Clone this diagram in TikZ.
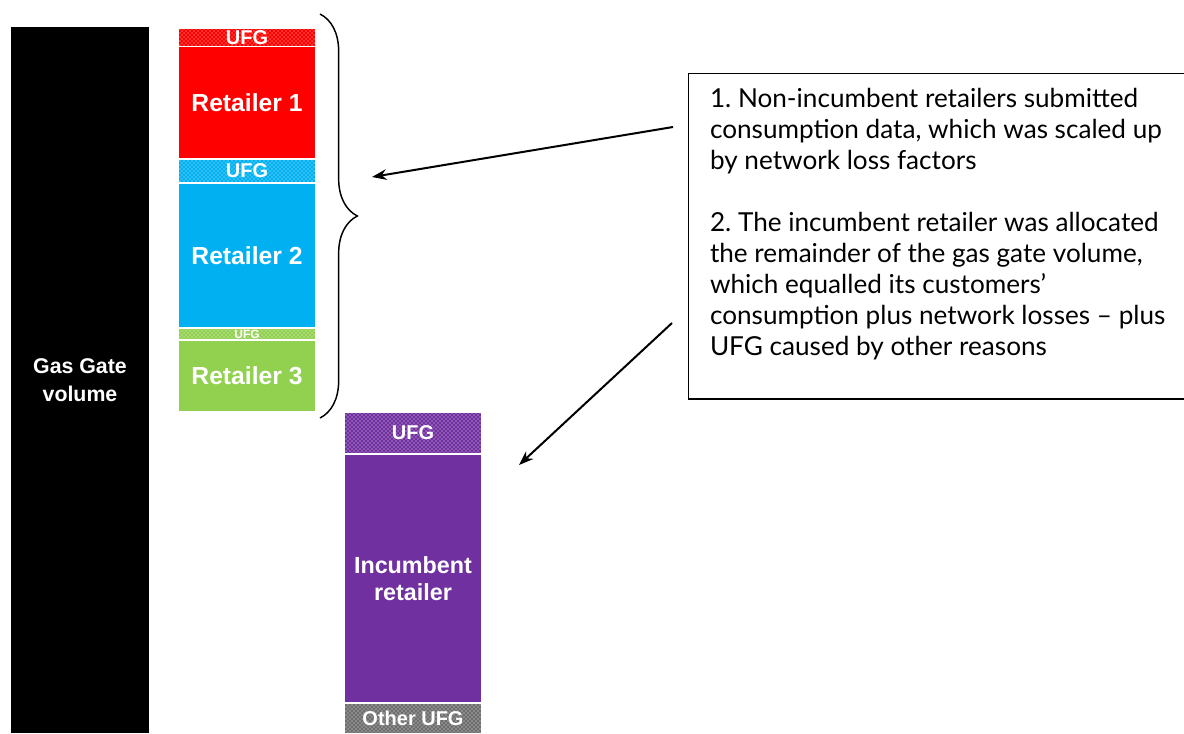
\documentclass[tikz,border=0pt]{standalone}
\usepackage{fontspec}
\setmainfont{Lato}
\newfontfamily\barfont{Liberation Sans}
\usetikzlibrary{decorations.pathreplacing,patterns,arrows.meta,positioning}
\definecolor{redR}{HTML}{FF0000}
\definecolor{blueR}{HTML}{00B0F0}
\definecolor{greenR}{HTML}{92D050}
\definecolor{purpleR}{HTML}{7030A0}
\definecolor{greyR}{HTML}{6E6E6E}
\tikzset{
  bar/.style={
    shape = rectangle,
    inner sep = 0pt,
    minimum width = 102pt,
    text = white,
    font = \barfont\bfseries\fontsize{18.5}{21}\selectfont,
    align = center
  },
  ufg/.style={
    bar,
    fill = #1,
    postaction = {pattern = crosshatch dots, pattern color = white!85!#1},
    font = \barfont\bfseries\fontsize{15}{17}\selectfont
  },
  pointer/.style={
    line width = 1.5pt,
    -{Stealth[length=11pt,width=8pt]}
  },
  note/.style={
    draw,
    line width = 1pt,
    shape = rectangle,
    align = left,
    anchor = north west,
    inner xsep = 16pt,
    minimum width = 370pt,
    minimum height = 244pt,
    font = \frenchspacing\fontsize{19.6}{23.2}\selectfont
  }
}
\begin{document}
\begin{tikzpicture}[x=0.75pt,y=-0.75pt]
\useasboundingbox (0,0) rectangle (1184,733);
\node[bar, fill=black, minimum width=103.5pt, minimum height=529.5pt,
  font=\barfont\bfseries\fontsize{16}{21}\selectfont] (gate) at (80,380) {Gas Gate\\volume};
% non-incumbent retailers
\node[ufg=redR, minimum height=12.75pt] (ufg1) at (247,37.5) {UFG};
\node[bar, fill=redR, minimum height=83.25pt] (ret1) at (247,102.5) {Retailer 1};
\node[ufg=blueR, minimum height=16.5pt] (ufg2) at (247,171) {UFG};
\node[bar, fill=blueR, minimum height=107.25pt] (ret2) at (247,255.5) {Retailer 2};
\node[ufg=greenR, minimum height=7.5pt, font=\barfont\bfseries\fontsize{9}{9}\selectfont] (ufg3) at (247,334) {UFG};
\node[bar, fill=greenR, minimum height=52.5pt] (ret3) at (247,376) {Retailer 3};
% incumbent retailer
\node[ufg=purpleR, minimum height=30pt] (ufg4) at (413,433) {UFG};
\node[bar, fill=purpleR, minimum height=185.25pt, font=\barfont\bfseries\fontsize{17.5}{20}\selectfont] (inc) at (413,578.5) {Incumbent\\retailer};
\node[ufg=greyR, minimum height=21.75pt] (other) at (413,718.5) {Other UFG};
% brace
\coordinate (bt) at (320,14);
\coordinate (bb) at (320,418);
\draw[line width=1.1pt, decorate, decoration={brace, amplitude=28pt}] (bt) -- (bb);
% explanation
\node[note] (notes) at (688,73) {1. Non-incumbent retailers submitted\\
consumption data, which was scaled up\\
by network loss factors\\[23.2pt]
2. The incumbent retailer was allocated\\
the remainder of the gas gate volume,\\
which equalled its customers’\\
consumption plus network losses – plus\\
UFG caused by other reasons\rule[-22pt]{0pt}{0pt}};
\coordinate (a1) at (673,127);
\coordinate (h1) at (372,177);
\coordinate (a2) at (672,323);
\coordinate (h2) at (519,465);
\draw[pointer] (a1) -- (h1);
\draw[pointer] (a2) -- (h2);
\end{tikzpicture}
\end{document}
